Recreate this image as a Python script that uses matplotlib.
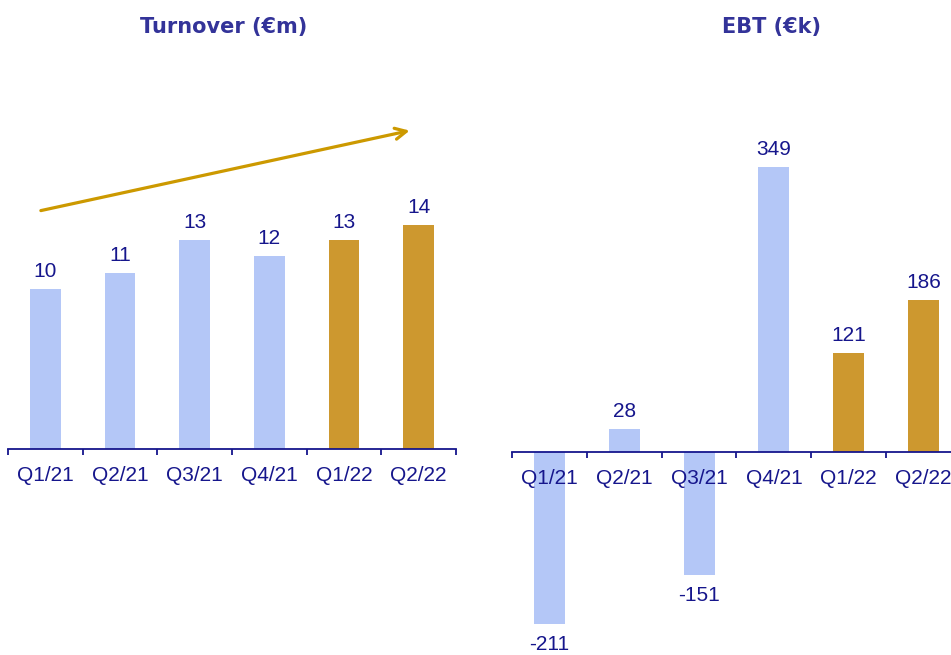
import matplotlib
matplotlib.use("Agg")
import matplotlib.pyplot as plt

# --- data -------------------------------------------------------------
QUARTERS = ["Q1/21", "Q2/21", "Q3/21", "Q4/21", "Q1/22", "Q2/22"]
TURNOVER = [10.0, 11.0, 13.05, 12.05, 13.05, 14.0]      # EUR m
TURNOVER_LABELS = ["10", "11", "13", "12", "13", "14"]
EBT = [-211, 28, -151, 349, 121, 186]                   # EUR k
EBT_LABELS = ["-211", "28", "-151", "349", "121", "186"]
IS_2022 = [False, False, False, False, True, True]

# --- style ------------------------------------------------------------
LIGHT = "#b4c7f7"
GOLD = "#cd982f"
ARROW = "#cc9900"
NAVY = "#16168c"
TITLE = "#333399"
W, H = 951, 655

plt.rcParams["font.family"] = ["Liberation Sans", "DejaVu Sans"]

fig = plt.figure(figsize=(W / 100, H / 100), dpi=100)


def px_axes(x0, x1, y_top, y_bottom):
    """Add axes using pixel coordinates (origin top-left)."""
    return fig.add_axes([x0 / W, 1 - y_bottom / H, (x1 - x0) / W, (y_bottom - y_top) / H])


def style_axis(ax):
    for side in ("top", "left", "right"):
        ax.spines[side].set_visible(False)
    ax.spines["bottom"].set_color(NAVY)
    ax.spines["bottom"].set_linewidth(1.3)
    ax.spines["bottom"].set_position(("data", 0))
    ax.set_yticks([])
    ax.set_xlim(-0.5, len(QUARTERS) - 0.5)
    ax.set_xticks(range(len(QUARTERS)))
    ax.set_xticklabels(QUARTERS, fontsize=15, color=NAVY)
    ax.set_xticks([i - 0.5 for i in range(len(QUARTERS) + 1)], minor=True)
    ax.tick_params(axis="x", which="major", length=0, pad=12)
    ax.tick_params(axis="x", which="minor", length=4.5, width=1.3, color=NAVY, direction="out")
    ax.patch.set_alpha(0)


def label_bars(ax, values, labels):
    for i, (v, lab) in enumerate(zip(values, labels)):
        if v >= 0:
            ax.annotate(lab, (i, v), xytext=(0, 8.5), textcoords="offset points",
                        ha="center", va="baseline", fontsize=15, color=NAVY,
                        annotation_clip=False)
        else:
            ax.annotate(lab, (i, v), xytext=(0, -7.5), textcoords="offset points",
                        ha="center", va="top", fontsize=15, color=NAVY,
                        annotation_clip=False)


colors = [GOLD if flag else LIGHT for flag in IS_2022]

# --- Turnover ---------------------------------------------------------
ax1 = px_axes(8, 456, 60, 449)
ax1.bar(range(len(QUARTERS)), TURNOVER, width=0.415, color=colors)
ax1.set_ylim(0, 389 / 16)
style_axis(ax1)
label_bars(ax1, TURNOVER, TURNOVER_LABELS)
ax1.annotate("", xy=(4.88, 19.9), xytext=(-0.06, 14.9),
             arrowprops=dict(arrowstyle="->", color=ARROW, lw=2.3,
                             mutation_scale=20, shrinkA=0, shrinkB=0))

# --- EBT --------------------------------------------------------------
ax2 = px_axes(512, 961, 60, 655)
ax2.bar(range(len(QUARTERS)), EBT, width=0.415, color=colors)
ax2.set_ylim(-(655 - 452) / 0.816, (452 - 60) / 0.816)
style_axis(ax2)
label_bars(ax2, EBT, EBT_LABELS)

# --- titles -----------------------------------------------------------
fig.text(224 / W, 1 - 27 / H, "Turnover (€m)", ha="center", va="center",
         fontsize=15, fontweight="bold", color=TITLE, family="DejaVu Sans")
fig.text(772 / W, 1 - 27 / H, "EBT (€k)", ha="center", va="center",
         fontsize=15, fontweight="bold", color=TITLE, family="DejaVu Sans")

fig.savefig("out.png", dpi=100)
